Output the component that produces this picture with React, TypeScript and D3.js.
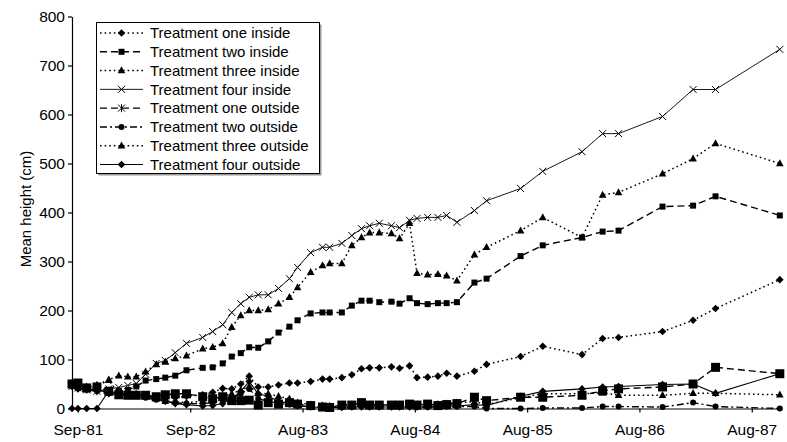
import React, { useEffect, useRef } from 'react';
import * as d3 from 'd3';

// measurement dates shared by every series
const sampleDates = [
  '1981-08-22', '1981-09-10', '1981-10-08', '1981-11-10', '1981-12-18',
  '1982-01-19', '1982-02-17', '1982-03-16', '1982-04-15', '1982-05-19',
  '1982-06-17', '1982-07-19', '1982-08-24', '1982-10-15', '1982-11-16',
  '1982-12-18', '1983-01-16', '1983-02-14', '1983-03-13', '1983-04-11',
  '1983-05-13', '1983-06-15', '1983-07-20', '1983-08-15', '1983-09-26',
  '1983-11-03', '1983-11-26', '1984-01-04', '1984-02-05', '1984-03-07',
  '1984-04-02', '1984-05-03', '1984-06-11', '1984-07-07', '1984-08-08',
  '1984-09-01', '1984-10-05', '1984-11-07', '1984-12-05', '1985-01-07',
  '1985-03-04', '1985-04-12', '1985-07-30', '1985-10-09', '1986-02-12',
  '1986-04-19', '1986-06-09', '1986-10-28', '1987-02-03', '1987-04-16',
  '1987-11-08',
];

const oneInside = [
  45, 40, 38, 35, 30, 28, 28, 28, 25, 22, 20, 22, 25, 28, 33, 41, 40, 50, 66, 44,
  44, 48, 52, 52, 55, 60, 60, 63, 69, 81, 83, 83, 85, 82, 87, 63, 64, 66, 72, 66,
  76, 90, 106, 127, 110, 143, 145, 157, 180, 204, 263,
];
const twoInside = [
  50, 48, 40, 42, 38, 36, 38, 45, 57, 60, 63, 67, 78, 83, 84, 92, 106, 113, 125, 124,
  137, 155, 167, 180, 194, 196, 196, 196, 210, 220, 220, 217, 218, 214, 225, 215, 213, 215, 215, 217,
  257, 265, 311, 333, 349, 361, 363, 412, 414, 433, 394,
];
const threeInside = [
  52, 46, 44, 48, 59, 67, 65, 65, 75, 90, 95, 102, 108, 122, 125, 133, 166, 190, 200, 200,
  202, 214, 227, 247, 278, 292, 296, 296, 333, 349, 359, 359, 357, 347, 378, 276, 273, 274, 271, 261,
  314, 329, 363, 390, 349, 436, 441, 479, 510, 541, 500,
];
const fourInside = [
  45, 42, 38, 35, 40, 43, 47, 51, 70, 92, 98, 114, 133, 145, 157, 171, 196, 214, 227, 232,
  232, 245, 265, 288, 318, 329, 329, 337, 353, 367, 373, 378, 373, 369, 384, 388, 390, 390, 394, 380,
  404, 424, 449, 484, 524, 561, 561, 596, 651, 651, 733,
];
const oneOutside = [
  50, 52, 42, 44, 35, 28, 27, 27, 27, 24, 28, 30, 30, 24, 20, 24, 16, 16, 17, 7,
  12, 9, 12, 9, 6, 3, 2, 7, 7, 12, 7, 7, 7, 7, 9, 7, 9, 6, 8, 10,
  23, 16, 23, 23, 27, 36, 40, 44, 50, 84, 71,
];
const twoOutside = [
  48, 42, 40, 38, 33, 30, 28, 25, 22, 18, 15, 12, 10, 10, 12, 18, 22, 30, 40, 20,
  15, 10, 8, 6, 4, 2, 2, 3, 4, 5, 5, 4, 4, 3, 4, 3, 3, 3, 4, 4,
  4, 0, 0, 1, 1, 4, 4, 3, 12, 4, 0,
];
const threeOutside = [
  50, 47, 44, 45, 58, 30, 28, 27, 26, 20, 15, 14, 12, 15, 18, 25, 30, 38, 45, 31,
  30, 25, 20, 12, 8, 6, 5, 6, 8, 10, 8, 8, 8, 8, 9, 8, 8, 9, 10, 12,
  14, 8, 22, 30, 30, 32, 27, 27, 31, 31, 28,
];
const fourOutside = [
  0, 0, 0, 0, 36, 30, 30, 30, 28, 22, 15, 10, 8, 5, 6, 10, 20, 35, 55, 30,
  25, 15, 10, 5, 3, 2, 2, 2, 3, 3, 3, 3, 3, 3, 3, 3, 3, 4, 5, 5,
  8, 6, 25, 35, 40, 44, 45, 49, 50, 31, 71,
];

const yTicks = [0, 100, 200, 300, 400, 500, 600, 700, 800];
const xTickDates = ['1981-09-10', '1982-09-05', '1983-08-31', '1984-08-25', '1985-08-20', '1986-08-15', '1987-08-10'];
const xTickLabels = ['Sep-81', 'Sep-82', 'Aug-83', 'Aug-84', 'Aug-85', 'Aug-86', 'Aug-87'];

type Marker = 'diamond' | 'square' | 'bigSquare' | 'triangle' | 'cross' | 'star' | 'circle';

interface Series {
  name: string;
  values: number[];
  dash: string | null;
  width: number;
  marker: Marker;
  legendMarker: Marker;
}

const series: Series[] = [
  { name: 'Treatment one inside', values: oneInside, dash: '1.6,3', width: 1.5, marker: 'diamond', legendMarker: 'diamond' },
  { name: 'Treatment two inside', values: twoInside, dash: '7,4', width: 1.4, marker: 'square', legendMarker: 'square' },
  { name: 'Treatment three inside', values: threeInside, dash: '1.6,3', width: 1.5, marker: 'triangle', legendMarker: 'triangle' },
  { name: 'Treatment four inside', values: fourInside, dash: null, width: 0.9, marker: 'cross', legendMarker: 'cross' },
  { name: 'Treatment one outside', values: oneOutside, dash: '7,4', width: 1.4, marker: 'bigSquare', legendMarker: 'star' },
  { name: 'Treatment two outside', values: twoOutside, dash: '7,3,2,3', width: 1.4, marker: 'circle', legendMarker: 'circle' },
  { name: 'Treatment three outside', values: threeOutside, dash: '1.6,3', width: 1.5, marker: 'triangle', legendMarker: 'triangle' },
  { name: 'Treatment four outside', values: fourOutside, dash: null, width: 1.1, marker: 'diamond', legendMarker: 'diamond' },
];

const FONT = "'Liberation Sans', Arial, Helvetica, sans-serif";

const markerPath = (kind: Marker, cx: number, cy: number) => {
  switch (kind) {
    case 'diamond':
      return `M${cx},${cy - 3.8}L${cx + 3.8},${cy}L${cx},${cy + 3.8}L${cx - 3.8},${cy}Z`;
    case 'square':
      return `M${cx - 3},${cy - 3}h6v6h-6Z`;
    case 'bigSquare':
      return `M${cx - 4.5},${cy - 4.5}h9v9h-9Z`;
    case 'triangle':
      return `M${cx},${cy - 4.2}L${cx + 3.8},${cy + 2.8}L${cx - 3.8},${cy + 2.8}Z`;
    case 'cross':
      return `M${cx - 3.5},${cy - 3.5}L${cx + 3.5},${cy + 3.5}M${cx - 3.5},${cy + 3.5}L${cx + 3.5},${cy - 3.5}`;
    case 'star':
      return `M${cx - 3.5},${cy - 3.5}L${cx + 3.5},${cy + 3.5}M${cx - 3.5},${cy + 3.5}L${cx + 3.5},${cy - 3.5}M${cx},${cy - 4}L${cx},${cy + 4}`;
    case 'circle':
    default:
      return `M${cx - 3},${cy}a3,3 0 1,0 6,0a3,3 0 1,0 -6,0Z`;
  }
};

const isStroked = (kind: Marker) => kind === 'cross' || kind === 'star';

interface Point {
  date: Date;
  value: number;
}

const App: React.FC = () => {
  const svgRef = useRef<SVGSVGElement>(null);

  useEffect(() => {
    document.body.style.margin = '0';
    const svg = d3.select(svgRef.current!);
    svg.selectAll('*').remove();

    const parse = d3.timeParse('%Y-%m-%d');
    const dates = sampleDates.map((d) => parse(d)!);

    const x = d3
      .scaleTime()
      .domain([parse('1981-08-22')!, parse('1987-11-15')!])
      .range([72, 782]);
    const y = d3.scaleLinear().domain([0, 800]).range([408.5, 16.5]);

    svg.append('rect').attr('width', 787).attr('height', 442).attr('fill', '#fff');

    // y axis
    const yAxis = svg
      .append('g')
      .attr('transform', 'translate(72,0)')
      .call(d3.axisLeft(y).tickValues(yTicks).tickSize(4).tickSizeOuter(0).tickPadding(3));
    yAxis.selectAll('text').attr('font-size', 15.5).attr('font-family', FONT).attr('fill', '#000');
    yAxis.selectAll('line, path').attr('stroke', '#000').attr('stroke-width', 1.2);

    // x axis
    const xAxis = svg
      .append('g')
      .attr('transform', `translate(0,${y(0)})`)
      .call(
        d3
          .axisBottom(x)
          .tickValues(xTickDates.map((d) => parse(d)!))
          .tickFormat((_d, i) => xTickLabels[i])
          .tickSize(4)
          .tickSizeOuter(0)
          .tickPadding(11),
      );
    xAxis.selectAll('text').attr('font-size', 15.5).attr('font-family', FONT).attr('fill', '#000');
    xAxis.selectAll('line, path').attr('stroke', '#000').attr('stroke-width', 1.2);

    // axis title
    svg
      .append('text')
      .attr('transform', 'translate(25,209) rotate(-90)')
      .attr('text-anchor', 'middle')
      .attr('dominant-baseline', 'central')
      .attr('font-size', 15)
      .attr('font-family', FONT)
      .text('Mean height (cm)');

    const line = d3
      .line<Point>()
      .x((d) => x(d.date))
      .y((d) => y(d.value));

    const plot = svg.append('g');
    series.forEach((s) => {
      const pts: Point[] = s.values.map((v, i) => ({ date: dates[i], value: v }));
      const g = plot.append('g');
      g.append('path')
        .datum(pts)
        .attr('d', line)
        .attr('fill', 'none')
        .attr('stroke', '#000')
        .attr('stroke-width', s.width)
        .attr('stroke-dasharray', s.dash ?? null);
      g.selectAll('path.mk')
        .data(pts)
        .enter()
        .append('path')
        .attr('class', 'mk')
        .attr('d', (d) => markerPath(s.marker, x(d.date), y(d.value)))
        .attr('fill', isStroked(s.marker) ? 'none' : '#000')
        .attr('stroke', isStroked(s.marker) ? '#000' : 'none')
        .attr('stroke-width', 1);
    });

    // legend
    const lg = svg.append('g');
    lg.append('rect').attr('x', 98.5).attr('y', 24.5).attr('width', 223).attr('height', 151).attr('fill', '#999');
    lg.append('rect')
      .attr('x', 96.5)
      .attr('y', 22.5)
      .attr('width', 223)
      .attr('height', 151)
      .attr('fill', '#fff')
      .attr('stroke', '#000')
      .attr('stroke-width', 1);
    const rowY = d3.scaleLinear().domain([0, 7]).range([33, 164.5]);
    const rows = lg
      .selectAll('g.row')
      .data(series)
      .enter()
      .append('g')
      .attr('class', 'row')
      .attr('transform', (_d, i) => `translate(0,${rowY(i)})`);
    rows
      .append('line')
      .attr('x1', 100)
      .attr('x2', 143)
      .attr('stroke', '#000')
      .attr('stroke-width', (d) => d.width)
      .attr('stroke-dasharray', (d) => d.dash);
    rows
      .append('path')
      .attr('d', (d) => markerPath(d.legendMarker, 121.5, 0))
      .attr('fill', (d) => (isStroked(d.legendMarker) ? 'none' : '#000'))
      .attr('stroke', (d) => (isStroked(d.legendMarker) ? '#000' : 'none'))
      .attr('stroke-width', 1);
    rows
      .append('text')
      .attr('x', 150)
      .attr('dy', '0.35em')
      .attr('font-size', 15)
      .attr('font-family', FONT)
      .text((d) => d.name);
  }, []);

  return <svg ref={svgRef} width={787} height={442} style={{ display: 'block' }} />;
};

export default App;
